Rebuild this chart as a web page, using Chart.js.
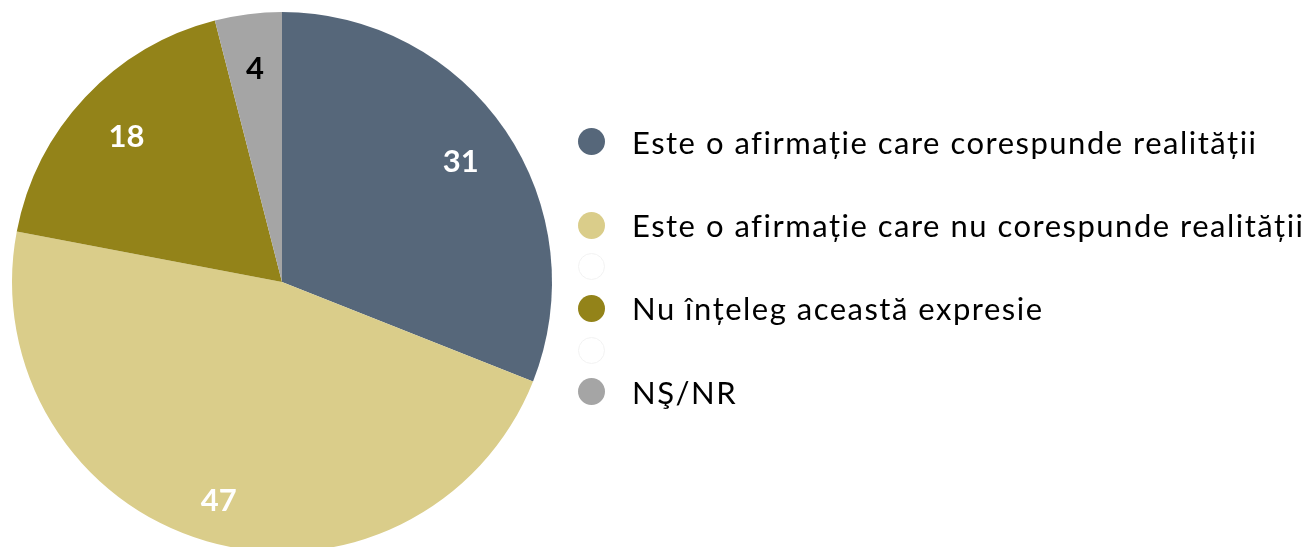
<!DOCTYPE html>
<html>
<head>
<meta charset="utf-8">
<title>Pie</title>
<script src="https://cdn.jsdelivr.net/npm/chart.js@4"></script>
<style>
  html, body { margin: 0; padding: 0; background: #fff; overflow: hidden; }
  #wrap { position: relative; width: 1314px; height: 547px; overflow: hidden; }
  #chartBox { position: absolute; left: 0; top: 0; width: 1314px; height: 560px; }
  #legend {
    position: absolute; left: 578px; top: 121px;
    font-family: Lato, "Noto Sans", sans-serif; font-size: 31px; letter-spacing: 1.5px; color: #000;
  }
  .legend-row { display: flex; align-items: center; height: 41.67px; white-space: nowrap; }
  .legend-dot {
    width: 27px; height: 27px; border-radius: 50%; margin-right: 27px;
    box-sizing: border-box; flex: none;
  }
</style>
</head>
<body>
<div id="wrap">
  <div id="chartBox"><canvas id="pieChart"></canvas></div>
  <div id="legend"></div>
</div>
<script>
/* ====================
   DATA
==================== */
const categories = [
  "Este o afirmație care corespunde realității",
  "Este o afirmație care nu corespunde realității",
  "Nu înțeleg această expresie",
  "NŞ/NR"
];
const shares = [31, 47, 18, 4];
const sliceColors = ["#56677A", "#DACD8A", "#938319", "#A5A5A5"];
const labelColors = ["#FFFFFF", "#FFFFFF", "#FFFFFF", "#000000"];

/* ====================
   VALUE LABELS
==================== */
const sliceLabels = {
  id: "sliceLabels",
  afterDatasetsDraw(chart, args, opts) {
    const ctx = chart.ctx;
    const meta = chart.getDatasetMeta(0);
    const size = opts.size;
    ctx.save();
    ctx.font = `bold ${size}px Lato, "Noto Sans", sans-serif`;
    ctx.textAlign = "center";
    ctx.textBaseline = "alphabetic";
    meta.data.forEach((arc, i) => {
      const p = arc.getProps(["x", "y", "startAngle", "endAngle", "outerRadius"], true);
      const mid = (p.startAngle + p.endAngle) / 2;
      const r = p.outerRadius * opts.radius[i];
      ctx.fillStyle = labelColors[i];
      ctx.fillText(String(shares[i]), p.x + Math.cos(mid) * r, p.y + Math.sin(mid) * r + size * 0.36);
    });
    ctx.restore();
  }
};

/* ====================
   LEGEND (html)
==================== */
const legendEl = document.getElementById("legend");

function legendRow(text, fill, ring) {
  const row = document.createElement("div");
  row.className = "legend-row";
  const dot = document.createElement("span");
  dot.className = "legend-dot";
  dot.style.background = fill;
  if (ring) dot.style.border = `1px solid ${ring}`;
  row.appendChild(dot);
  const label = document.createElement("span");
  label.textContent = text;
  row.appendChild(label);
  return row;
}

categories.forEach((name, i) => {
  legendEl.appendChild(legendRow(name, sliceColors[i]));
  // empty entries between the real ones, as in the original
  if (i === 0) legendEl.appendChild(legendRow("", "transparent"));
  else if (i < categories.length - 1) legendEl.appendChild(legendRow("", "#FFFFFF", "#F2F2F2"));
});

/* ====================
   CHART
==================== */
new Chart(document.getElementById("pieChart"), {
  type: "pie",
  data: {
    labels: categories,
    datasets: [{
      data: shares,
      backgroundColor: sliceColors,
      borderWidth: 0,
      hoverOffset: 0
    }]
  },
  options: {
    responsive: true,
    maintainAspectRatio: false,
    animation: false,
    layout: { padding: { top: 12, left: 12, right: 762, bottom: 8 } },
    plugins: {
      legend: { display: false },
      tooltip: { enabled: false },
      sliceLabels: { size: 31, radius: [0.8, 0.84, 0.79, 0.8] }
    }
  },
  plugins: [sliceLabels]
});
</script>
</body>
</html>
